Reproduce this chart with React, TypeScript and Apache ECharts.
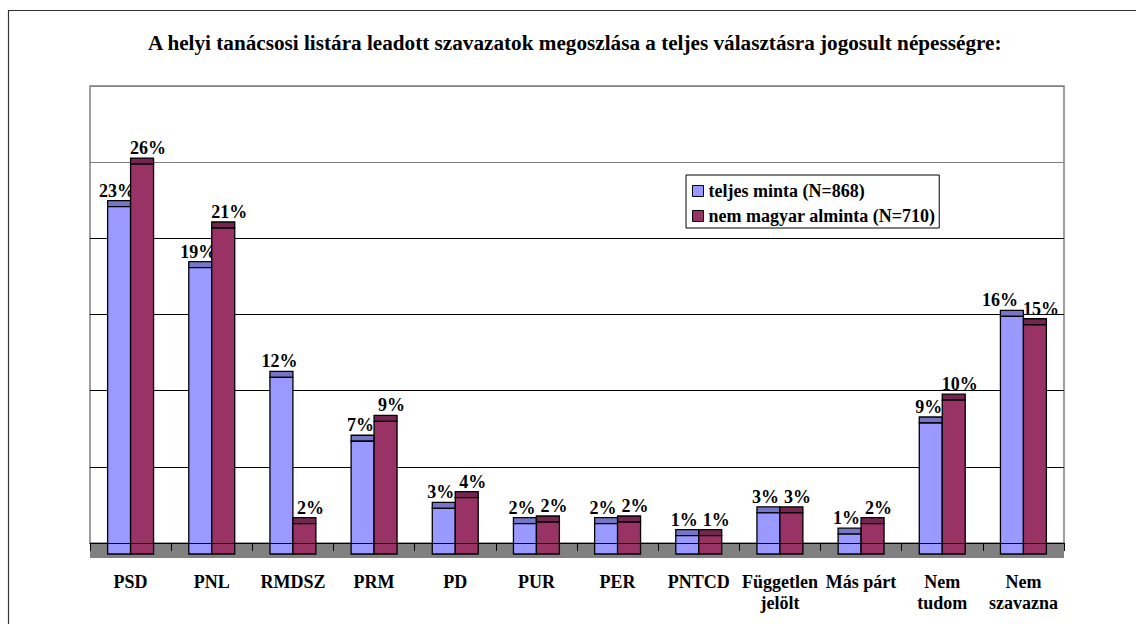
import React, { useEffect, useRef } from "react";
import * as echarts from "echarts";

const titleText =
  "A helyi tanácsosi listára leadott szavazatok megoszlása a teljes választásra jogosult népességre:";
const categories = [
  "PSD",
  "PNL",
  "RMDSZ",
  "PRM",
  "PD",
  "PUR",
  "PER",
  "PNTCD",
  "Független\njelölt",
  "Más párt",
  "Nem\ntudom",
  "Nem\nszavazna",
];
const seriesNames = ["teljes minta (N=868)", "nem magyar alminta (N=710)"];
const teljesMinta = [22.8, 18.8, 11.6, 7.4, 3.0, 2.0, 2.0, 1.2, 2.7, 1.3, 8.6, 15.6];
const nemMagyar = [25.6, 21.4, 2.0, 8.7, 3.7, 2.1, 2.1, 1.2, 2.7, 2.0, 10.1, 15.05];
const yTicks = [0, 5, 10, 15, 20, 25, 30];

const FONT = "Liberation Serif, Times New Roman, serif";
const FRONT_SHIFT = 11;
const FACE_H = 6;
const LABEL_SIZE = 18;

const labelOf = (v: number) => Math.round(v) + "%";
const labelWidth = (s: string) => (s.length - 1) * 0.5 * LABEL_SIZE + LABEL_SIZE;

function makeRender(side: number, front: string, face: string, own: number[], other: number[]) {
  return (params: any, api: any) => {
    const i = api.value(0);
    const v = api.value(1);
    const base = api.coord([i, 0]);
    const top = api.coord([i, v]);
    const otherTop = api.coord([i, other[i]]);
    const band = api.size([1, 0])[0];
    const w = band * 0.283;
    const x0 = side === 0 ? base[0] - w : base[0];
    const frontTop = top[1] + FRONT_SHIFT;
    const frontBottom = base[1] + FRONT_SHIFT;
    const faceTop = frontTop - FACE_H;

    // label placement: blue slightly left, red slightly right, pushed apart when they collide
    const txt = labelOf(v);
    const blueTxt = side === 0 ? txt : labelOf(other[i]);
    const redTxt = side === 0 ? labelOf(other[i]) : txt;
    const cb = base[0] - w / 2 - 2;
    const cr = base[0] + w / 2 + 6;
    let shiftBlue = 0;
    if (Math.abs(top[1] - otherTop[1]) < LABEL_SIZE) {
      const need = (labelWidth(blueTxt) + labelWidth(redTxt)) / 2 + 5;
      if (cr - cb < need) shiftBlue = need - (cr - cb);
    }
    const lx = side === 0 ? cb - shiftBlue : cr;

    return {
      type: "group",
      children: [
        {
          type: "rect",
          shape: { x: x0, y: faceTop, width: w, height: FACE_H },
          style: { fill: face, stroke: "#000", lineWidth: 1.3 },
        },
        {
          type: "rect",
          shape: { x: x0, y: frontTop, width: w, height: frontBottom - frontTop },
          style: { fill: front, stroke: "#000", lineWidth: 1.3 },
        },
        {
          type: "text",
          x: lx,
          y: faceTop - 1,
          style: {
            text: txt,
            fontSize: LABEL_SIZE,
            fontWeight: "bold",
            fontFamily: FONT,
            fill: "#000",
            align: "center",
            verticalAlign: "bottom",
          },
        },
      ],
    };
  };
}

export default function App() {
  const ref = useRef<HTMLDivElement>(null);
  useEffect(() => {
    if (!ref.current) return;
    const chart = echarts.init(ref.current, undefined, { renderer: "svg" });
    chart.setOption({
      animation: false,
      backgroundColor: "#fff",
      textStyle: { fontFamily: FONT },
      title: {
        text: titleText,
        left: 143,
        top: 27,
        padding: 5,
        textStyle: { fontFamily: FONT, fontSize: 21.2, fontWeight: "bold", color: "#000" },
      },
      legend: {
        orient: "vertical",
        left: 686,
        top: 175,
        padding: [7, 4, 3, 6],
        itemGap: 7,
        itemWidth: 11,
        itemHeight: 11,
        icon: "rect",
        borderColor: "#000",
        borderWidth: 1,
        backgroundColor: "#fff",
        itemStyle: { borderColor: "#000", borderWidth: 1 },
        textStyle: {
          fontFamily: FONT,
          fontSize: 18,
          lineHeight: 18,
          fontWeight: "bold",
          color: "#000",
        },
        data: seriesNames,
      },
      grid: {
        left: 90,
        right: 72,
        top: 86,
        bottom: 81,
        show: true,
        borderColor: "#808080",
        borderWidth: 1.5,
        backgroundColor: "#fff",
      },
      xAxis: {
        type: "category",
        data: categories,
        offset: 15,
        z: 5,
        axisLine: { lineStyle: { color: "#000", width: 1 } },
        axisTick: { show: true, length: 8, lineStyle: { color: "#000" } },
        axisLabel: {
          interval: 0,
          margin: 13,
          fontFamily: FONT,
          fontSize: 18,
          fontWeight: "bold",
          lineHeight: 21,
          color: "#000",
        },
        splitLine: { show: false },
      },
      yAxis: {
        type: "value",
        min: yTicks[0],
        max: yTicks[yTicks.length - 1],
        interval: yTicks[1] - yTicks[0],
        axisLine: { show: false },
        axisTick: { show: false },
        axisLabel: { show: false },
        splitLine: {
          show: true,
          lineStyle: {
            color: ["#000", "#000", "#000", "#000", "#000", "#808080", "#808080"],
            width: 1,
          },
        },
      },
      graphic: [
        {
          type: "rect",
          z: 1,
          shape: { x: 8.5, y: 10.5, width: 1400, height: 900 },
          style: { fill: "none", stroke: "#333", lineWidth: 1.2 },
          silent: true,
        },
        {
          type: "rect",
          z: 1,
          shape: { x: 90, y: 543, width: 974, height: 15 },
          style: { fill: "#808080" },
          silent: true,
        },
      ],
      series: [
        {
          name: seriesNames[0],
          type: "custom",
          z: 3,
          itemStyle: { color: "#9999FF" },
          encode: { x: 0, y: 1 },
          renderItem: makeRender(0, "#9999FF", "#7676C8", teljesMinta, nemMagyar),
          data: teljesMinta.map((v, i) => [i, v]),
        },
        {
          name: seriesNames[1],
          type: "custom",
          z: 3,
          itemStyle: { color: "#993366" },
          encode: { x: 0, y: 1 },
          renderItem: makeRender(1, "#993366", "#742650", nemMagyar, teljesMinta),
          data: nemMagyar.map((v, i) => [i, v]),
        },
      ],
    });
    return () => chart.dispose();
  }, []);
  return (
    <div
      ref={ref}
      style={{ position: "fixed", left: 0, top: 0, width: 1136, height: 624 }}
    />
  );
}
